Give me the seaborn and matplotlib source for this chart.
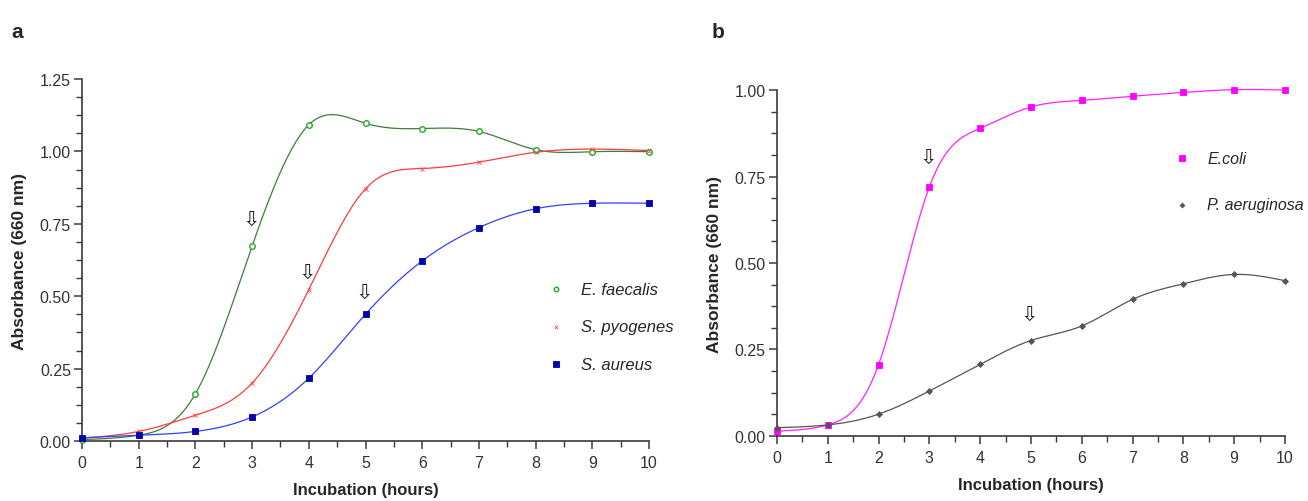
import numpy as np
import pandas as pd
import matplotlib
matplotlib.use("Agg")
import matplotlib.pyplot as plt
import seaborn as sns
from matplotlib.ticker import MultipleLocator, FormatStrFormatter

# ============================================================
# DATA
# ============================================================
hours = [0, 1, 2, 3, 4, 5, 6, 7, 8, 9, 10]

e_faecalis = [0.005, 0.020, 0.163, 0.673, 1.092, 1.097, 1.079, 1.069, 1.006, 0.999, 0.999]
s_pyogenes = [0.010, 0.033, 0.089, 0.200, 0.523, 0.871, 0.941, 0.963, 0.997, 1.008, 1.003]
s_aureus = [0.011, 0.020, 0.033, 0.083, 0.217, 0.438, 0.622, 0.737, 0.802, 0.821, 0.821]

e_coli = [0.014, 0.032, 0.206, 0.720, 0.889, 0.951, 0.970, 0.982, 0.993, 1.001, 1.000]
p_aeruginosa = [0.024, 0.032, 0.063, 0.130, 0.207, 0.276, 0.318, 0.395, 0.440, 0.467, 0.449]

# hour at which each arrow is drawn (panel a: faecalis, pyogenes, aureus; panel b: coli, aeruginosa)
arrow_hours_a = [3, 4, 5]
arrow_hours_b = [3, 5]


# ============================================================
# HELPERS
# ============================================================
def natural_spline(x, y, n=300):
    # plain natural cubic spline, only used to draw the smooth connecting line
    x = np.asarray(x, float)
    y = np.asarray(y, float)
    k = len(x)
    h = np.diff(x)
    A = np.zeros((k, k))
    r = np.zeros(k)
    A[0, 0] = 1
    A[-1, -1] = 1
    for i in range(1, k - 1):
        A[i, i - 1] = h[i - 1]
        A[i, i] = 2 * (h[i - 1] + h[i])
        A[i, i + 1] = h[i]
        r[i] = 6 * ((y[i + 1] - y[i]) / h[i] - (y[i] - y[i - 1]) / h[i - 1])
    M = np.linalg.solve(A, r)

    xs = np.linspace(x[0], x[-1], n)
    idx = np.clip(np.searchsorted(x, xs) - 1, 0, k - 2)
    x0, x1 = x[idx], x[idx + 1]
    y0, y1 = y[idx], y[idx + 1]
    m0, m1 = M[idx], M[idx + 1]
    hh = x1 - x0
    a = (x1 - xs) / hh
    b = (xs - x0) / hh
    ys = a * y0 + b * y1 + ((a ** 3 - a) * m0 + (b ** 3 - b) * m1) * hh ** 2 / 6
    return xs, ys


def draw_series(ax, y, name, line_color, marker_color, marker, size, filled=True):
    xs, ys = natural_spline(hours, y)
    sns.lineplot(x=xs, y=ys, ax=ax, color=line_color, linewidth=0.9,
                 legend=False, clip_on=False, estimator=None, sort=False)
    if filled:
        sns.scatterplot(x=hours, y=y, ax=ax, marker=marker, s=size, color=marker_color,
                        edgecolor=marker_color, linewidth=0.6, label=name, clip_on=False, zorder=5)
    else:
        sns.scatterplot(x=hours, y=y, ax=ax, marker=marker, s=size, facecolor="white",
                        edgecolor=marker_color, linewidth=1.0, label=name, clip_on=False, zorder=5)


def style_axes(ax, ymax):
    ax.set_xlim(0, 10)
    ax.set_ylim(0, ymax)
    sns.despine(ax=ax)
    for s in ["left", "bottom"]:
        ax.spines[s].set_color("#3a3a3a")
        ax.spines[s].set_linewidth(1.2)
    ax.xaxis.set_major_locator(MultipleLocator(1))
    ax.xaxis.set_minor_locator(MultipleLocator(0.5))
    ax.yaxis.set_major_locator(MultipleLocator(0.25))
    ax.yaxis.set_minor_locator(MultipleLocator(0.0625))
    ax.yaxis.set_major_formatter(FormatStrFormatter("%.2f"))
    ax.tick_params(which="major", direction="out", length=6, width=1.1, color="#3a3a3a",
                   labelsize=11.5, labelcolor="#333333", pad=2, left=True, bottom=True)
    ax.tick_params(which="minor", direction="out", length=4, width=1.0, color="#3a3a3a",
                   left=True, bottom=True)
    ax.tick_params(axis="x", which="major", pad=4)
    ax.grid(False)
    ax.set_xlabel("Incubation (hours)", fontsize=12, fontweight="bold", labelpad=9)
    ax.set_ylabel("Absorbance (660 nm)", fontsize=12.5, fontweight="bold", labelpad=9)


def add_arrows(ax, xs, ys, offsets):
    for x, y, off in zip(xs, ys, offsets):
        ax.annotate("\u21e9", xy=(x, y), xytext=(-1, off), textcoords="offset points",
                    ha="center", va="center", fontsize=15, family="DejaVu Sans",
                    color="#222222")


# ============================================================
# FIGURE
# ============================================================
sns.set_theme(style="ticks")
plt.rcParams["font.family"] = ["Liberation Sans", "DejaVu Sans"]

fig = plt.figure(figsize=(13.08, 5.02), dpi=100)
ax_a = fig.add_axes([0.0627, 0.1195, 0.4335, 0.7211])
ax_b = fig.add_axes([0.594, 0.1295, 0.3884, 0.6892])

# panel a
draw_series(ax_a, e_faecalis, "E. faecalis", "#3d7d3d", "#22aa22", "o", 16, filled=False)
draw_series(ax_a, s_pyogenes, "S. pyogenes", "#ff3b3b", "#ff4444", "x", 9)
draw_series(ax_a, s_aureus, "S. aureus", "#3340ff", "#0000aa", "s", 22)
style_axes(ax_a, 1.25)
ya = [e_faecalis[hours.index(arrow_hours_a[0])], s_pyogenes[hours.index(arrow_hours_a[1])],
      s_aureus[hours.index(arrow_hours_a[2])]]
add_arrows(ax_a, arrow_hours_a, ya, [20, 13, 16])
ax_a.legend(loc="upper left", bbox_to_anchor=(0.791, 0.463), frameon=False,
            prop={"style": "italic", "size": 12}, handletextpad=0.55,
            labelspacing=1.35, markerscale=0.8, borderpad=0)

# panel b
draw_series(ax_b, e_coli, "E.coli", "#ff22ff", "#ff00ff", "s", 22)
draw_series(ax_b, p_aeruginosa, "P. aeruginosa", "#555555", "#555555", "D", 9)
style_axes(ax_b, 1.0)
yb = [e_coli[hours.index(arrow_hours_b[0])], p_aeruginosa[hours.index(arrow_hours_b[1])]]
add_arrows(ax_b, arrow_hours_b, yb, [22, 19])
ax_b.legend(loc="upper left", bbox_to_anchor=(0.75, 0.848), frameon=False,
            prop={"style": "italic", "size": 11.5}, handletextpad=0.6,
            labelspacing=1.95, markerscale=0.8, borderpad=0)

fig.text(0.009, 0.955, "a", fontsize=15, fontweight="bold", va="top")
fig.text(0.544, 0.955, "b", fontsize=15, fontweight="bold", va="top")

fig.savefig("out.png", dpi=100)
